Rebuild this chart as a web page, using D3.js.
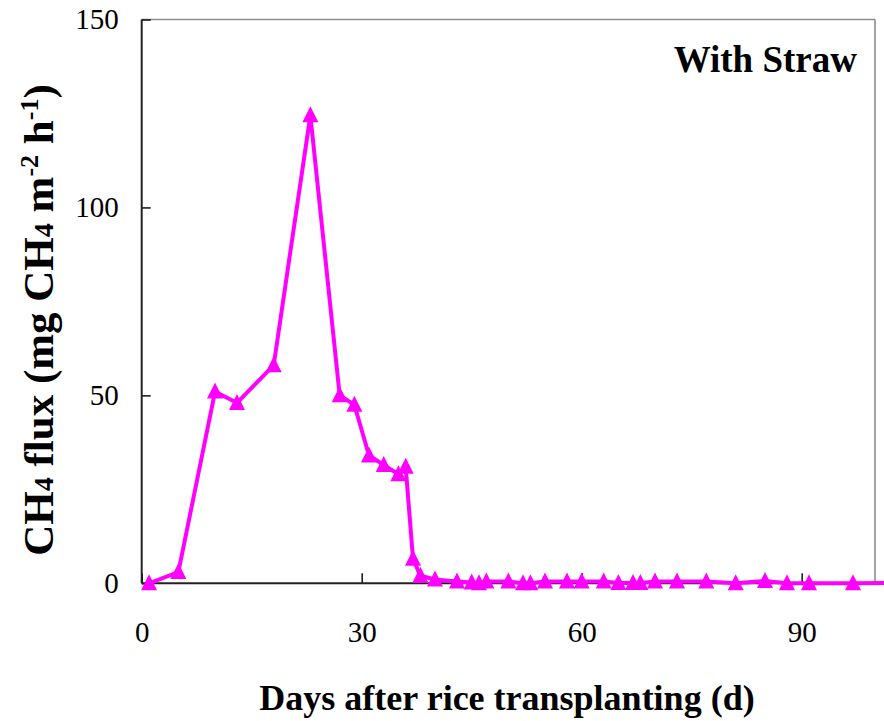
<!DOCTYPE html>
<html>
<head>
<meta charset="utf-8">
<script src="https://cdn.jsdelivr.net/npm/d3@7/dist/d3.min.js"></script>
<style>
  html, body { margin: 0; padding: 0; background: #fff; }
  svg { display: block; }
  svg text { font-family: "Liberation Serif", "Times New Roman", Times, serif; }
</style>
</head>
<body>
<svg id="chart" width="884" height="721"></svg>
<script>
// Sampling days after transplanting and measured CH4 flux (mg CH4 m-2 h-1)
const days = [1, 5, 10, 13, 18, 23, 27, 29, 31, 33, 35, 36, 37, 38, 40,
  43, 45, 46, 47, 50, 52, 53, 55, 58, 60, 63, 65, 67, 68, 70, 73, 77, 81, 85, 88, 91, 97, 105];
const flux = [0, 3, 51, 48, 58, 124.5, 50, 47.5, 34, 31.5, 29, 31, 6.5, 2, 1,
  0.5, 0.2, 0, 0.5, 0.5, 0, 0, 0.5, 0.5, 0.5, 0.5, 0.1, 0.1, 0.1, 0.5, 0.5, 0.5, 0, 0.6, 0, 0, 0, 0.2];
const xTicks = [0, 30, 60, 90];
const yTicks = [0, 50, 100, 150];
const panelTitle = "With Straw";
const xTitle = "Days after rice transplanting (d)";

const svg = d3.select("#chart");
const serif = "Liberation Serif";

const plotL = 141.7, plotR = 875, plotT = 19.5, plotB = 583.3;
const x = d3.scaleLinear().domain([0, 100]).range([plotL, plotR]);
const y = d3.scaleLinear().domain([0, 150]).range([plotB, plotT]);

// frame: top and right edges in grey
svg.append("line").attr("x1", plotL).attr("x2", plotR).attr("y1", plotT).attr("y2", plotT)
  .attr("stroke", "#8c8c8c").attr("stroke-width", 1.6);
svg.append("line").attr("x1", plotR).attr("x2", plotR).attr("y1", plotT).attr("y2", plotB)
  .attr("stroke", "#8c8c8c").attr("stroke-width", 1.6);

// y axis
const yAxis = svg.append("g").attr("transform", `translate(${plotL},0)`)
  .call(d3.axisLeft(y).tickValues(yTicks).tickFormat(d3.format("d"))
    .tickSizeInner(-9).tickSizeOuter(0).tickPadding(23));
yAxis.select(".domain").remove();
yAxis.selectAll(".tick line").attr("stroke", "#111").attr("stroke-width", 1.5);
yAxis.selectAll(".tick text").style("font-family", serif).attr("font-size", 29).attr("fill", "#000");

// x axis
const xAxis = svg.append("g").attr("transform", `translate(0,${plotB})`)
  .call(d3.axisBottom(x).tickValues(xTicks).tickFormat(d3.format("d"))
    .tickSizeInner(-10).tickSizeOuter(0).tickPadding(38));
xAxis.select(".domain").remove();
xAxis.selectAll(".tick line").attr("stroke", "#111").attr("stroke-width", 1.5);
xAxis.selectAll(".tick text").style("font-family", serif).attr("font-size", 29).attr("fill", "#000");

// axis lines
svg.append("line").attr("x1", plotL).attr("x2", plotL).attr("y1", plotT).attr("y2", plotB)
  .attr("stroke", "#222").attr("stroke-width", 2);
svg.append("line").attr("x1", plotL).attr("x2", plotR).attr("y1", plotB).attr("y2", plotB)
  .attr("stroke", "#222").attr("stroke-width", 2);

// series
const pts = days.map((d, i) => ({ d, v: flux[i] }));
const line = d3.line().x(p => x(p.d)).y(p => y(p.v));
svg.append("path").datum(pts).attr("d", line)
  .attr("fill", "none").attr("stroke", "#ff00ff").attr("stroke-width", 4)
  .attr("stroke-linejoin", "miter");

const tri = "M0,-9L8,7L-8,7Z";
svg.append("g").selectAll("path").data(pts).join("path")
  .attr("d", tri)
  .attr("transform", p => `translate(${x(p.d)},${y(p.v)})`)
  .attr("fill", "#ff00ff");

// panel title
svg.append("text").attr("x", 857).attr("y", 72).attr("text-anchor", "end")
  .style("font-family", serif).attr("font-weight", "bold").attr("font-size", 37)
  .text(panelTitle);

// x title
svg.append("text").attr("x", 507).attr("y", 710).attr("text-anchor", "middle")
  .style("font-family", serif).attr("font-weight", "bold").attr("font-size", 36)
  .text(xTitle);

// y title with subscripts and superscripts
const yt = svg.append("text")
  .attr("transform", "translate(53,320) rotate(-90)")
  .attr("text-anchor", "middle")
  .style("font-family", serif).attr("font-weight", "bold").attr("font-size", 43);
const parts = [
  ["CH", 0, null], ["4", 0, "sub"], [" flux (mg CH", 0, null], ["4", 0, "sub"],
  [" m", 0, null], ["-2", -15, "sup"], [" h", 15, null], ["-1", -15, "sup"], [")", 15, null]
];
parts.forEach(([t, dy, kind]) => {
  const s = yt.append("tspan").text(t);
  if (dy) s.attr("dy", dy);
  if (kind === "sub") s.attr("font-size", 28);
  if (kind === "sup") s.attr("font-size", 26);
});
</script>
</body>
</html>
